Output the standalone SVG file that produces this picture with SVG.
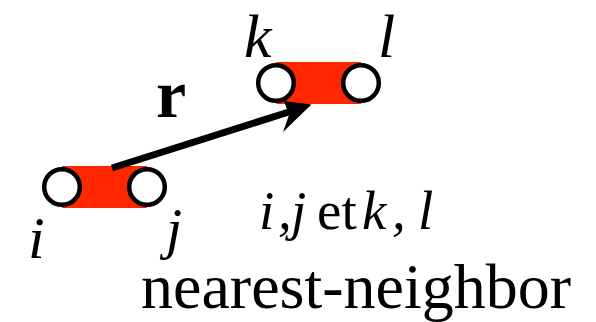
<svg xmlns="http://www.w3.org/2000/svg" width="596" height="322" viewBox="0 0 596 322">
<style>
.band{fill:#ff2600;}
.atom{fill:#ffffff;stroke:#000000;stroke-width:4.5;}
.math{font-family:"Liberation Serif","Times New Roman",serif;font-style:italic;fill:#000;}
.rm{font-family:"Liberation Serif","Times New Roman",serif;font-style:normal;fill:#000;}
</style>
<rect width="596" height="322" fill="#ffffff"/>
<g id="pair-ij">
<rect class="band" x="62" y="166" width="85" height="42"/>
<circle id="atom-i" class="atom" cx="62" cy="187" r="17.8"/>
<circle id="atom-j" class="atom" cx="147" cy="187" r="17.8"/>
</g>
<g id="pair-kl">
<rect class="band" x="276" y="62" width="85" height="42"/>
<circle id="atom-k" class="atom" cx="276" cy="83" r="17.8"/>
<circle id="atom-l" class="atom" cx="361" cy="83" r="17.8"/>
</g>
<g id="connectors">
<line x1="112" y1="168" x2="292" y2="111" stroke="#000" stroke-width="7"/>
<polygon points="311.5,104.5 284,101 289,115 283,132" fill="#000"/>
</g>
<g id="labels">
<text class="math" x="28" y="258" font-size="60">i</text>
<text class="math" x="166" y="248" font-size="58">j</text>
<text class="math" x="244" y="57" font-size="62">k</text>
<text class="math" x="378" y="57" font-size="62">l</text>
<text class="rm" x="156" y="117" font-size="68" font-weight="bold">r</text>
<text class="math" x="259" y="229" font-size="55">i</text>
<text class="math" x="278" y="229" font-size="55">,</text>
<text class="math" x="291" y="229" font-size="55">j</text>
<text class="rm" x="317" y="229" font-size="55">et</text>
<text class="math" x="362" y="229" font-size="55">k</text>
<text class="math" x="392" y="229" font-size="55">,</text>
<text class="math" x="418" y="229" font-size="55">l</text>
<text class="rm" x="141" y="308" font-size="64">nearest-neighbor</text>
</g>
</svg>
